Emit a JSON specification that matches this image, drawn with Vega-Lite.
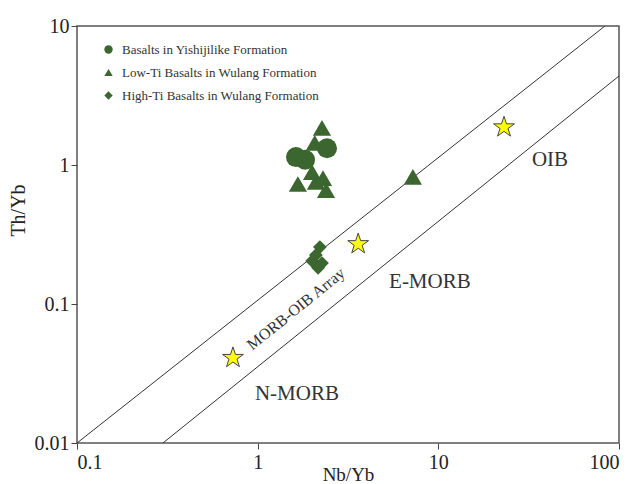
{
  "$schema": "https://vega.github.io/schema/vega-lite/v6.json",
  "width": 542,
  "height": 417,
  "autosize": "none",
  "padding": {"left": 77, "top": 26, "right": 20, "bottom": 41},
  "background": "white",
  "config": {
    "view": {"stroke": "#555555", "strokeWidth": 1.5},
    "font": "Liberation Serif",
    "legend": {
      "labelFont": "Liberation Serif",
      "labelFontSize": 13,
      "labelColor": "#333333",
      "padding": 0
    }
  },
  "datasets": {
    "boundaries": [
      {"line": "upper", "nb_yb": 0.1, "th_yb": 0.01},
      {"line": "upper", "nb_yb": 83.6, "th_yb": 10},
      {"line": "lower", "nb_yb": 0.299, "th_yb": 0.01},
      {"line": "lower", "nb_yb": 100, "th_yb": 4.37}
    ],
    "samples": [
      {"group": "Basalts in Yishijilike Formation", "nb_yb": 1.63, "th_yb": 1.14},
      {"group": "Basalts in Yishijilike Formation", "nb_yb": 1.83, "th_yb": 1.09},
      {"group": "Basalts in Yishijilike Formation", "nb_yb": 2.42, "th_yb": 1.32},
      {"group": "Low-Ti Basalts in Wulang Formation", "nb_yb": 2.27, "th_yb": 1.85},
      {"group": "Low-Ti Basalts in Wulang Formation", "nb_yb": 2.07, "th_yb": 1.44},
      {"group": "Low-Ti Basalts in Wulang Formation", "nb_yb": 1.67, "th_yb": 0.73},
      {"group": "Low-Ti Basalts in Wulang Formation", "nb_yb": 2.0, "th_yb": 0.89},
      {"group": "Low-Ti Basalts in Wulang Formation", "nb_yb": 2.1, "th_yb": 0.755},
      {"group": "Low-Ti Basalts in Wulang Formation", "nb_yb": 2.3, "th_yb": 0.806},
      {"group": "Low-Ti Basalts in Wulang Formation", "nb_yb": 2.39, "th_yb": 0.66},
      {"group": "Low-Ti Basalts in Wulang Formation", "nb_yb": 7.23, "th_yb": 0.82},
      {"group": "High-Ti Basalts in Wulang Formation", "nb_yb": 2.21, "th_yb": 0.257},
      {"group": "High-Ti Basalts in Wulang Formation", "nb_yb": 2.1, "th_yb": 0.225},
      {"group": "High-Ti Basalts in Wulang Formation", "nb_yb": 2.0, "th_yb": 0.204},
      {"group": "High-Ti Basalts in Wulang Formation", "nb_yb": 2.27, "th_yb": 0.197},
      {"group": "High-Ti Basalts in Wulang Formation", "nb_yb": 2.16, "th_yb": 0.182}
    ],
    "references": [
      {"name": "OIB", "nb_yb": 23.1, "th_yb": 1.87},
      {"name": "E-MORB", "nb_yb": 3.6, "th_yb": 0.27},
      {"name": "N-MORB", "nb_yb": 0.73, "th_yb": 0.041}
    ],
    "fields": [
      {"label": "OIB", "nb_yb": 41.5, "th_yb": 1.09},
      {"label": "E-MORB", "nb_yb": 8.98, "th_yb": 0.144},
      {"label": "N-MORB", "nb_yb": 1.65, "th_yb": 0.0225}
    ],
    "array": [
      {"label": "MORB-OIB Array", "nb_yb": 1.63, "th_yb": 0.092}
    ]
  },
  "encoding": {
    "x": {
      "field": "nb_yb",
      "type": "quantitative",
      "scale": {"type": "log", "domain": [0.1, 100], "nice": false},
      "axis": {
        "title": "Nb/Yb",
        "values": [0.1, 1, 10, 100],
        "format": "~g",
        "domain": false,
        "grid": false,
        "tickColor": "#444444",
        "tickSize": 6,
        "labelFont": "Liberation Serif",
        "labelFontSize": 20,
        "labelColor": "#222222",
        "labelPadding": 3,
        "titleFont": "Liberation Serif",
        "titleFontSize": 19,
        "titleFontWeight": "normal",
        "titleColor": "#222222",
        "titleY": 37,
        "titleBaseline": "alphabetic"
      }
    },
    "y": {
      "field": "th_yb",
      "type": "quantitative",
      "scale": {"type": "log", "domain": [0.01, 10], "nice": false},
      "axis": {
        "title": "Th/Yb",
        "values": [0.01, 0.1, 1, 10],
        "format": "~g",
        "domain": false,
        "grid": false,
        "tickColor": "#444444",
        "tickSize": 6,
        "labelFont": "Liberation Serif",
        "labelFontSize": 20,
        "labelColor": "#222222",
        "labelPadding": 2,
        "titleFont": "Liberation Serif",
        "titleFontSize": 20,
        "titleFontWeight": "normal",
        "titleColor": "#222222",
        "titleAngle": -90,
        "titleX": -59,
        "titleY": 184,
        "titleAlign": "center",
        "titleBaseline": "middle"
      }
    },
    "shape": {
      "field": "group",
      "type": "nominal",
      "scale": {
        "domain": [
          "Basalts in Yishijilike Formation",
          "Low-Ti Basalts in Wulang Formation",
          "High-Ti Basalts in Wulang Formation"
        ],
        "range": ["circle", "triangle-up", "diamond"]
      },
      "legend": {
        "title": null,
        "orient": "none",
        "legendX": 25,
        "legendY": 17,
        "symbolSize": 70,
        "symbolFillColor": "#3b6630",
        "symbolStrokeColor": "#3b6630",
        "symbolStrokeWidth": 0,
        "labelFont": "Liberation Serif",
        "labelFontSize": 13,
        "labelLimit": 0,
        "labelOffset": 7,
        "rowPadding": 9
      }
    }
  },
  "layer": [
    {
      "data": {"name": "boundaries"},
      "mark": {"type": "line", "color": "#333333", "strokeWidth": 1, "clip": true},
      "encoding": {"detail": {"field": "line"}, "shape": null}
    },
    {
      "data": {"name": "samples"},
      "transform": [{"filter": "datum.group === 'Basalts in Yishijilike Formation'"}],
      "mark": {"type": "point", "filled": true, "color": "#3b6630", "opacity": 1, "size": 400}
    },
    {
      "data": {"name": "samples"},
      "transform": [{"filter": "datum.group === 'Low-Ti Basalts in Wulang Formation'"}],
      "mark": {"type": "point", "filled": true, "color": "#3b6630", "opacity": 1, "size": 330}
    },
    {
      "data": {"name": "samples"},
      "transform": [{"filter": "datum.group === 'High-Ti Basalts in Wulang Formation'"}],
      "mark": {"type": "point", "filled": true, "color": "#3b6630", "opacity": 1, "size": 190}
    },
    {
      "data": {"name": "references"},
      "mark": {
        "type": "point",
        "shape": "M0,-1L0.2245,-0.309L0.951,-0.309L0.3633,0.118L0.5878,0.809L0,0.382L-0.5878,0.809L-0.3633,0.118L-0.951,-0.309L-0.2245,-0.309Z",
        "size": 480,
        "filled": true,
        "fill": "#ffff00",
        "stroke": "#444444",
        "strokeWidth": 1,
        "opacity": 1
      },
      "encoding": {"shape": null}
    },
    {
      "data": {"name": "fields"},
      "mark": {"type": "text", "font": "Liberation Serif", "fontSize": 21, "color": "#333333", "align": "center", "baseline": "middle"},
      "encoding": {"text": {"field": "label"}, "shape": null}
    },
    {
      "data": {"name": "array"},
      "mark": {"type": "text", "font": "Liberation Serif", "fontSize": 16, "color": "#333333", "align": "center", "baseline": "middle", "angle": -39},
      "encoding": {"text": {"field": "label"}, "shape": null}
    }
  ]
}
